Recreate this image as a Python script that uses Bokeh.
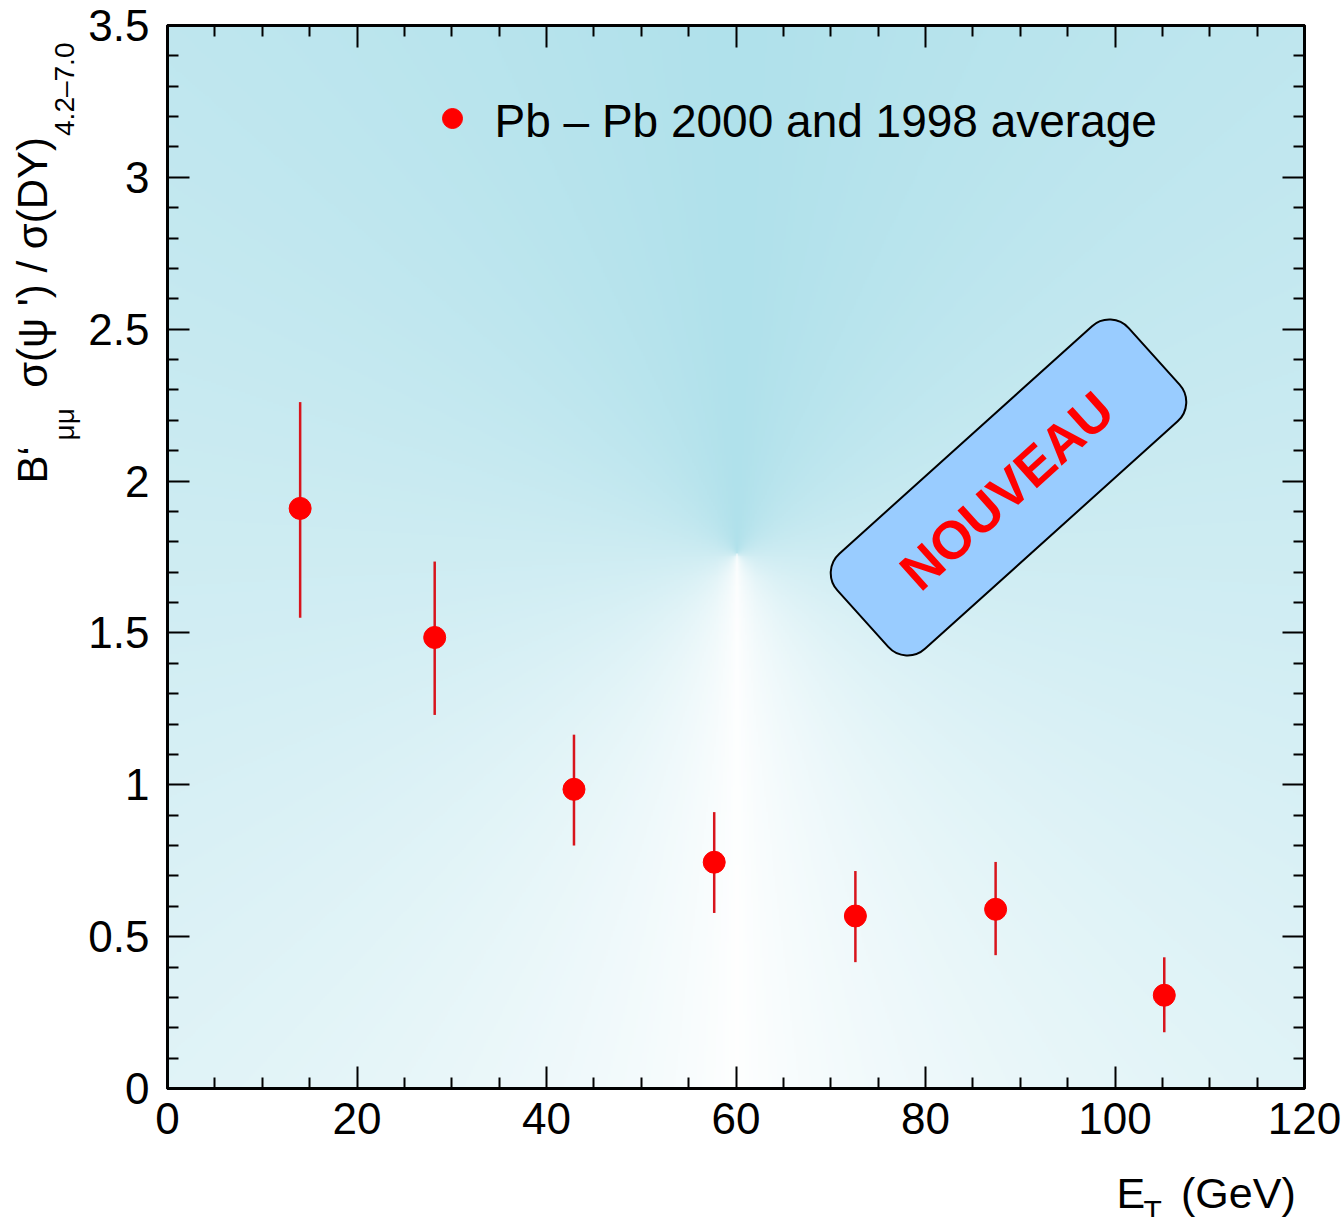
import numpy as np
from bokeh.plotting import figure
from bokeh.models import (Range1d, LinearAxis, FixedTicker, CustomJSTickFormatter,
                          Label, Title)
from bokeh.embed import file_html
from bokeh.resources import INLINE

# psi' / Drell-Yan ratio versus transverse energy
et = [14.0, 28.2, 42.9, 57.7, 72.6, 87.4, 105.2]
ratio = [1.91, 1.485, 0.985, 0.745, 0.568, 0.59, 0.307]
err_up = [0.35, 0.25, 0.18, 0.165, 0.148, 0.156, 0.125]
err_down = [0.36, 0.255, 0.185, 0.167, 0.152, 0.151, 0.122]

x_ticks = [0, 20, 40, 60, 80, 100, 120]
x_minor = [v for v in range(0, 121, 5) if v % 20]
y_ticks = [0, 0.5, 1, 1.5, 2, 2.5, 3, 3.5]
y_minor = [round(0.1 * i, 1) for i in range(36) if i % 5]
series_label = "Pb \u2013 Pb 2000 and 1998 average"
stamp_text = "NOUVEAU"

NB = "\u00a0"
x_title_main = "E" + NB * 3 + "(GeV)"
x_title_sub = "T"
y_title_main = "B\u2018" + NB * 5 + "\u03c3(\u03c8" + NB + "') / \u03c3(DY)"
y_title_sub = "\u03bc\u03bc" + NB * 35 + "4.2\u20137.0"

X0, X1, Y0, Y1 = 0, 120, 0, 3.5
W, H = 1344, 1217
BL, BR, BT, BB = 167, 40, 25, 129
FW, FH = W - BL - BR, H - BT - BB
FONT = "Liberation Sans"


def to_data(sx, sy):
    """Canvas pixel position -> data coordinates."""
    return (X0 + (sx - BL) / FW * (X1 - X0),
            Y1 - (sy - BT) / FH * (Y1 - Y0))


p = figure(width=W, height=H, x_range=Range1d(X0, X1), y_range=Range1d(Y0, Y1),
           output_backend="svg", toolbar_location=None,
           min_border_left=BL, min_border_right=BR, min_border_top=BT, min_border_bottom=BB)
p.grid.visible = False
p.background_fill_color = "white"
p.border_fill_color = "white"
p.outline_line_color = "black"
p.outline_line_width = 3

# angular shaded background around a point near (60, 1.76)
nx, ny = 600, 560
gx = np.linspace(X0, X1, nx)
gy = np.linspace(Y0, Y1, ny)
GX, GY = np.meshgrid(gx, gy)
dx = (GX - 60.1) * FW / (X1 - X0)
dy = (GY - 1.76) * FH / (Y1 - Y0)
phi = np.arctan2(np.abs(dx), -dy)
f = (phi / np.pi) ** 0.7
base = np.array([176.0, 225.0, 235.0])
rgb = 255.0 - f[..., None] * (255.0 - base)
img = np.empty((ny, nx), dtype=np.uint32)
view = img.view(dtype=np.uint8).reshape((ny, nx, 4))
view[..., :3] = np.clip(rgb, 0, 255).astype(np.uint8)
view[..., 3] = 255
p.image_rgba(image=[img], x=X0, y=Y0, dw=X1 - X0, dh=Y1 - Y0)

# axes: ticks inside, mirrored on all four sides
fmt = CustomJSTickFormatter(code="return String(Math.round(tick*10)/10)")
blank = CustomJSTickFormatter(code="return ''")


def style_axis(ax, ticks, minor, labels=True):
    ax.ticker = FixedTicker(ticks=ticks, minor_ticks=minor)
    ax.formatter = fmt if labels else blank
    ax.axis_line_width = 3
    ax.axis_line_color = "black"
    ax.major_tick_in = 22
    ax.major_tick_out = 0
    ax.minor_tick_in = 11
    ax.minor_tick_out = 0
    ax.major_tick_line_width = 2
    ax.minor_tick_line_width = 2
    ax.major_label_text_font = FONT
    ax.major_label_text_font_size = "44px"
    ax.major_label_text_color = "black"


style_axis(p.xaxis[0], x_ticks, x_minor)
p.xaxis[0].major_label_standoff = 14
# a tiny blank axis label keeps a gap above the x title row
p.xaxis[0].axis_label = NB
p.xaxis[0].axis_label_text_font_size = "1px"
p.xaxis[0].axis_label_standoff = 26
style_axis(p.yaxis[0], y_ticks, y_minor)
p.yaxis[0].major_label_standoff = 18
top_ax = LinearAxis()
style_axis(top_ax, x_ticks, x_minor, labels=False)
p.add_layout(top_ax, "above")
right_ax = LinearAxis()
style_axis(right_ax, y_ticks, y_minor, labels=False)
p.add_layout(right_ax, "right")


def side_title(text, side, size, offset, standoff, valign="bottom"):
    p.add_layout(Title(text=text, align="left", offset=offset, standoff=standoff,
                       vertical_align=valign, text_font=FONT, text_font_size=f"{size}px",
                       text_font_style="normal", text_color="black"), side)


# axis titles: subscript rows sit between the tick labels and the main text
side_title(y_title_sub, "left", 28, 648, 12)
side_title(y_title_main, "left", 42, 605, -30)
side_title(x_title_main, "below", 43, 949, 0)
side_title(x_title_sub, "below", 30, 976, -46, valign="top")

# data with error bars
lo = [v - e for v, e in zip(ratio, err_down)]
hi = [v + e for v, e in zip(ratio, err_up)]
p.segment(x0=et, y0=lo, x1=et, y1=hi, line_color="#d8141c", line_width=2.5)
p.scatter(x=et, y=ratio, size=22, marker="circle", fill_color="#ff0000", line_color="#ff0000")

# legend entry
lx, ly = to_data(452, 118)
p.scatter(x=[lx], y=[ly], size=20, marker="circle", fill_color="#ff0000", line_color="#ff0000")
tx, ty = to_data(494, 120)
p.add_layout(Label(x=tx, y=ty, text=series_label, text_align="left", text_baseline="middle",
                   text_font=FONT, text_font_size="46px", text_color="black"))

# stamp
cx, cy = to_data(1008, 487)
p.rect(x=cx, y=cy, width=392, height=128, width_units="screen", height_units="screen",
       angle=0.733, fill_color="#99ccff", line_color="black", line_width=2,
       border_radius=26)
sx_, sy_ = to_data(1006, 490)
p.add_layout(Label(x=sx_, y=sy_, text=stamp_text, angle=0.733, text_align="center",
                   text_baseline="middle", text_font=FONT, text_font_size="53px",
                   text_font_style="bold", text_color="#ff0000"))

open("out.html", "w").write(file_html(p, INLINE))
